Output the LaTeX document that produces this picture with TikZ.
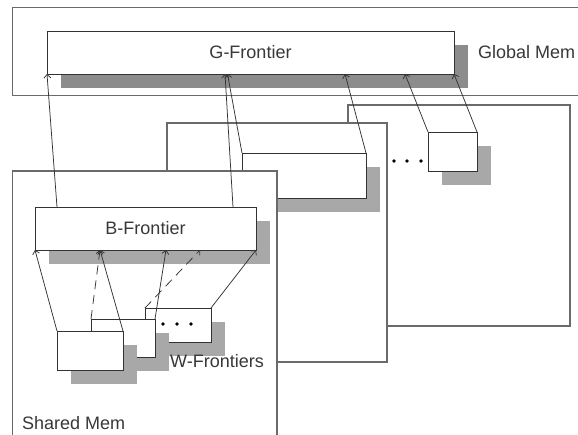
\documentclass[tikz,border=0pt]{standalone}
\usepackage{fontspec}
\setmainfont{Liberation Sans}
\usetikzlibrary{arrows.meta,shadows}

\definecolor{memline}{HTML}{6A6A6A}
\definecolor{boxline}{HTML}{333333}
\definecolor{darkshade}{HTML}{8C8C8C}
\definecolor{lightshade}{HTML}{A8A8A8}
\definecolor{txt}{HTML}{383838}

\tikzset{
  frontier/.style={draw=boxline, fill=white, line width=0.8pt, inner sep=0pt, outer sep=0pt, text=txt,
    drop shadow={shadow xshift=14pt, shadow yshift=-14pt, fill=#1, opacity=1}},
  frontier/.default=lightshade,
  mem/.style={draw=memline, fill=white, line width=1.1pt},
  link/.style={draw=boxline, line width=0.75pt, -{Straight Barb[length=3.5pt,width=7pt]}},
  lbl/.style={text=txt, inner sep=0pt, anchor=west}
}

\begin{document}
\begin{tikzpicture}[x=1pt,y=-1pt,font=\fontsize{18}{21}\selectfont]
\useasboundingbox (0,0) rectangle (578,434);
\clip (0,0) rectangle (578,434);

   % global memory
   \draw[mem] (12.5,7.5) rectangle (600,95.5);
   \node[frontier=darkshade, minimum width=407pt, minimum height=43pt] at (250.5,52.5) (G) {G-Frontier};
   \node[lbl] at (478,52) (glabel) {Global Mem};

   % blocks behind
   \draw[mem] (348,105) rectangle (570,326);
   \node[frontier, minimum width=49pt, minimum height=39pt] at (452.5,151.5) (R) {};

   \draw[mem] (167,123) rectangle (387,362);
   \node[frontier, minimum width=124pt, minimum height=45pt] at (304,175.5) (M) {};
   \foreach \x in {394,407,421} \fill (\x,161) circle (1.9pt);

   % shared memory
   \draw[mem] (12.5,171) rectangle (277,450);
   \node[frontier, minimum width=221pt, minimum height=43pt] at (145.5,228.5) (B) {B-Frontier};

   \node[frontier, minimum width=66pt, minimum height=34pt] at (178,325) (W3) {};
   \foreach \x in {163,177,191} \fill (\x,324) circle (1.9pt);
   \node[frontier, minimum width=64pt, minimum height=38pt] at (123,338) (W2) {};
   \node[frontier, minimum width=66pt, minimum height=39pt] at (90,350.5) (W1) {};

   \node[lbl] at (170,361) (wlabel) {W-Frontiers};
   \node[lbl] at (22,423) (slabel) {Shared Mem};

   \coordinate (g1) at (225,74);
   \coordinate (g2) at (227.5,74);
   \coordinate (g3) at (345,74);
   \coordinate (g4) at (405,74);
   \coordinate (b1) at (100,250);
   \coordinate (b2) at (166,250);
   \coordinate (b3) at (200,250);
   \coordinate (bt1) at (57,207);
   \coordinate (bt2) at (233,207);

   % W -> B
   \draw[link] (W1.north west) -- (B.south west);
   \draw[link] (W1.north east) -- (b1);
   \draw[link,dash pattern=on 9pt off 6pt] (W2.north west) -- (b1);
   \draw[link] (W2.north east) -- (b2);
   \draw[link,dash pattern=on 9pt off 6pt] (W3.north west) -- (b3);
   \draw[link] (W3.north east) -- (B.south east);

   % B -> G
   \draw[link] (bt1) -- (G.south west);
   \draw[link] (bt2) -- (g1);
   \draw[link] (M.north west) -- (g2);
   \draw[link] (M.north east) -- (g3);
   \draw[link] (R.north west) -- (g4);
   \draw[link] (R.north east) -- (G.south east);

\end{tikzpicture}
\end{document}
